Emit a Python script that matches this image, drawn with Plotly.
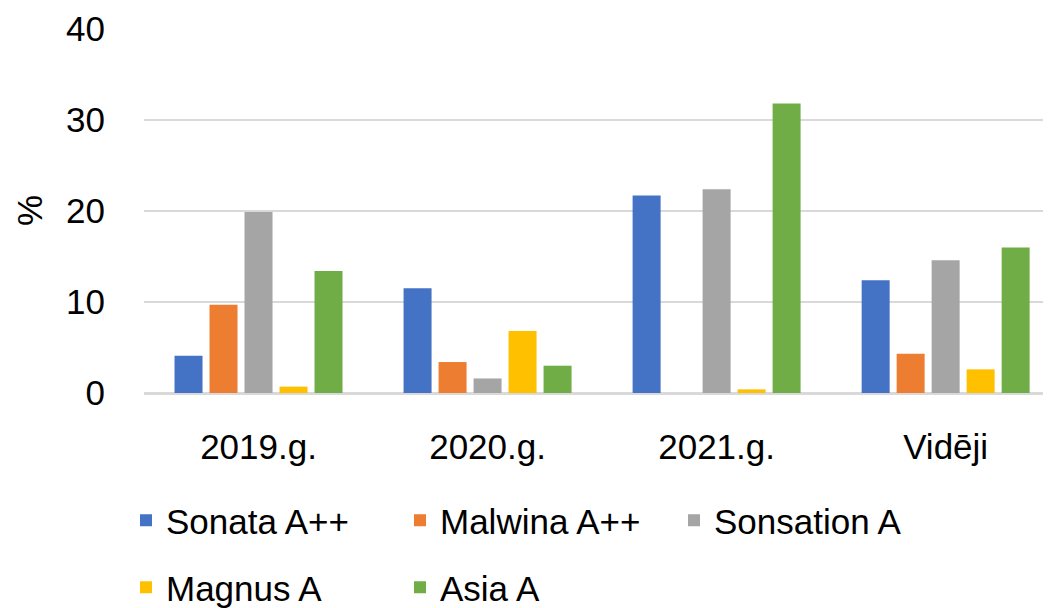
import plotly.graph_objects as go

categories = ["2019.g.", "2020.g.", "2021.g.", "Vidēji"]
series_names = ["Sonata A++", "Malwina A++", "Sonsation A", "Magnus A", "Asia A"]
sonata = [4.1, 11.5, 21.7, 12.4]
malwina = [9.7, 3.4, 0.0, 4.3]
sonsation = [19.9, 1.6, 22.4, 14.6]
magnus = [0.7, 6.8, 0.4, 2.6]
asia = [13.4, 3.0, 31.8, 16.0]
colors = ["#4472C4", "#ED7D31", "#A5A5A5", "#FFC000", "#70AD47"]
legend_rows = ["legend", "legend", "legend", "legend2", "legend2"]
y_ticks = [0, 10, 20, 30, 40]

FONT = "Liberation Sans, Arial, sans-serif"

fig = go.Figure()
for name, vals, col, lg in zip(series_names, [sonata, malwina, sonsation, magnus, asia], colors, legend_rows):
    fig.add_trace(go.Bar(x=categories, y=vals, name=name, legend=lg,
                         marker=dict(color=col, line=dict(width=0))))

# the page body has an 8px margin, so the figure is drawn 8px in from the corner
OFF = 8
W, H = 1051 - OFF, 608 - OFF
ml, mr, mt, mb = 144 - OFF, 0, 29 - OFF, 608 - 393
pw, ph = W - ml - mr, H - mt - mb

def px_x(x):  # screen pixel -> paper x
    return (x - OFF - ml) / pw

def px_y(y):  # screen pixel -> paper y
    return (H - mb - (y - OFF)) / ph

legend_common = dict(orientation="h", xanchor="left", yanchor="top",
                     entrywidth=229, entrywidthmode="pixels",
                     font=dict(family=FONT, size=35, color="black"), itemclick=False,
                     bgcolor="rgba(0,0,0,0)")
fig.update_layout(
    width=W, height=H,
    margin=dict(l=ml, r=mr, t=mt, b=mb, autoexpand=False),
    paper_bgcolor="white", plot_bgcolor="white",
    barmode="group", bargap=0.236, bargroupgap=0.2,
    font=dict(family=FONT, size=35, color="black"),
    legend=dict(x=px_x(126), y=px_y(491), **legend_common),
    legend2=dict(x=px_x(126), y=px_y(558), **legend_common),
    showlegend=True,
)
fig.update_xaxes(type="category", range=[-0.5, 3.46], showgrid=False, showline=True,
                 linecolor="#d9d9d9", linewidth=2, ticks="", ticklabelstandoff=22,
                 automargin=False,
                 tickfont=dict(family=FONT, size=35, color="black"))
fig.update_yaxes(range=[0, 40], tickvals=y_ticks, showgrid=True, gridcolor="#d9d9d9",
                 gridwidth=2, zeroline=True, zerolinecolor="#d9d9d9", zerolinewidth=2,
                 showline=False, ticks="", ticklabelstandoff=38, automargin=False,
                 tickfont=dict(family=FONT, size=35, color="black"))
fig.add_annotation(text="%", textangle=-90, xref="paper", yref="paper",
                   x=px_x(29), y=px_y(211), xanchor="center", yanchor="middle",
                   showarrow=False,
                   font=dict(family=FONT, size=35, color="black"))
fig.write_html("out.html")
